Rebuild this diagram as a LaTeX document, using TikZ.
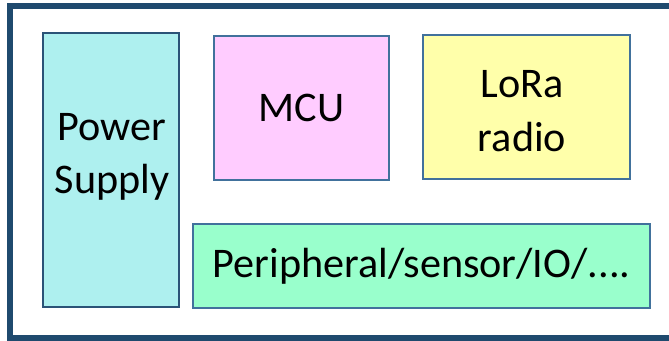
\documentclass[tikz,border=0pt]{standalone}
\usepackage{fontspec}
\setmainfont{Carlito}
\usepackage{tikz}

\definecolor{frameblue}{HTML}{1F4A6E}
\definecolor{edgeblue}{HTML}{41719C}
\definecolor{psublue}{HTML}{2B5377}
\definecolor{psufill}{HTML}{AEF0EF}
\definecolor{mcufill}{HTML}{FFCCFF}
\definecolor{lorafill}{HTML}{FFFFAA}
\definecolor{perifill}{HTML}{99FFCC}

\begin{document}
\begin{tikzpicture}[x=0.025cm,y=-0.025cm,
    block/.style={draw=edgeblue,line width=1.4pt,inner sep=0pt},
    lbl/.style={align=center,font=\fontsize{30}{38}\selectfont}]
  \useasboundingbox (0,0) rectangle (669,341);
  \clip (0,0) rectangle (669,341);
  \draw[frameblue,line width=4.3pt] (10,6) rectangle (690,338);

  \node[block,draw=psublue,fill=psufill,minimum width=136*0.025cm,minimum height=274*0.025cm] (psu) at (111,170) {};
  \node[lbl] (psutext) at (112,157) {Power\\Supply};

  \node[block,fill=mcufill,minimum width=175*0.025cm,minimum height=144*0.025cm] (mcu) at (301.5,108) {};
  \node[lbl] (mcutext) at (mcu.center) {MCU};

  \node[block,fill=lorafill,minimum width=207*0.025cm,minimum height=144*0.025cm] (lora) at (526.5,107) {};
  \node[lbl] (loratext) at (522,111) {LoRa\\radio};

  \node[block,fill=perifill,minimum width=457*0.025cm,minimum height=84*0.025cm] (peri) at (421.5,266) {};
  \node[lbl] (peritext) at (peri.center) {Peripheral/sensor/IO/....};
\end{tikzpicture}
\end{document}
